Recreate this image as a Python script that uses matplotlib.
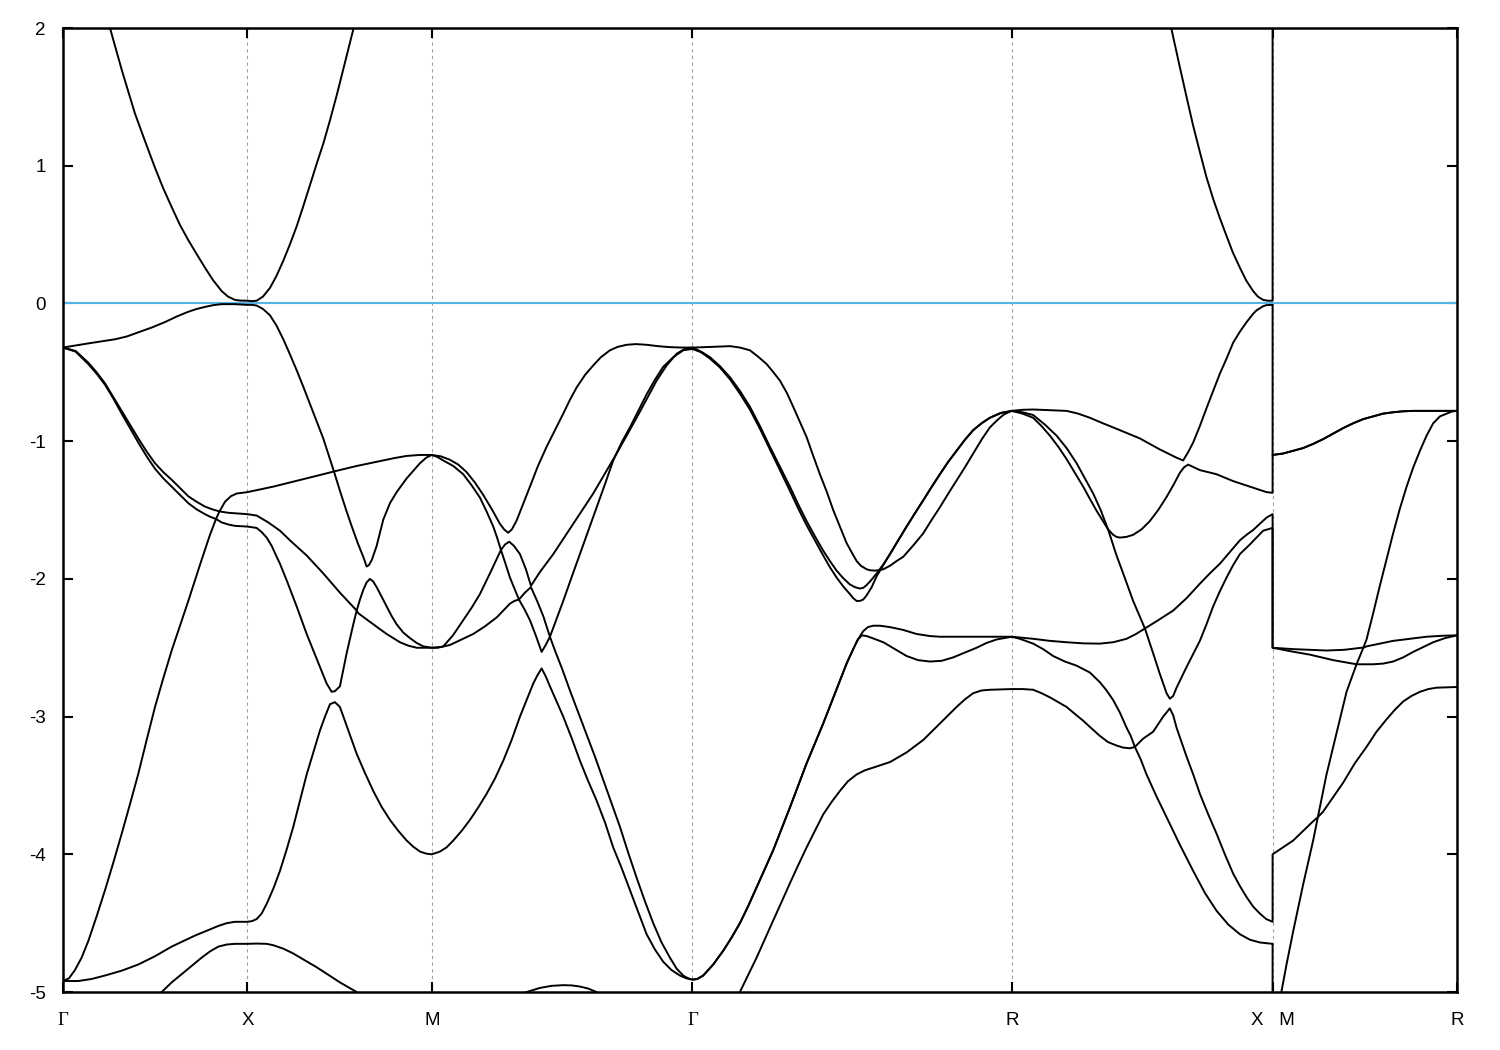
import matplotlib
matplotlib.use('Agg')
import matplotlib.pyplot as plt

plt.rcParams['font.family'] = ['Liberation Sans', 'DejaVu Sans']
plt.rcParams['axes.unicode_minus'] = False

# high symmetry points along the k-path
kpt_pos = [0.0, 0.5, 1.0, 1.7071, 2.5731, 3.2802, 3.7802]
kpt_lab = ['Γ', 'X', 'M', 'Γ', 'R', 'X   M', 'R']
e_ticks = [-5, -4, -3, -2, -1, 0, 1, 2]

# bands as (k, E) pairs; the X|M jump is a repeated k
band_a = [(0.0, 3.2), (0.1274, 2.0), (0.16, 1.69), (0.195, 1.38), (0.2223, 1.18), (0.2495, 0.985),
          (0.2712, 0.84), (0.2947, 0.70), (0.3172, 0.57), (0.3398, 0.46), (0.3633, 0.355), (0.385, 0.26),
          (0.4067, 0.17), (0.4303, 0.09), (0.4474, 0.05), (0.4664, 0.026), (0.4799, 0.021), (0.5, 0.02),
          (0.5126, 0.017), (0.5252, 0.02), (0.5423, 0.05), (0.5613, 0.113), (0.5789, 0.20), (0.5974, 0.31),
          (0.6155, 0.43), (0.6337, 0.56), (0.6508, 0.70), (0.6698, 0.86), (0.6874, 1.01), (0.7058, 1.16),
          (0.724, 1.33), (0.7421, 1.51), (0.7647, 1.75), (0.7872, 1.99), (1.0, 4.2),
          (1.7071, 5.0), (2.5731, 5.0),
          (2.95, 2.65), (3.0062, 1.99), (3.0263, 1.745), (3.0469, 1.50), (3.064, 1.30), (3.083, 1.10),
          (3.1006, 0.92), (3.119, 0.76), (3.1372, 0.62), (3.1554, 0.49), (3.1725, 0.37), (3.1915, 0.26),
          (3.2091, 0.165), (3.2275, 0.09), (3.2403, 0.05), (3.2546, 0.026), (3.2674, 0.02), (3.2802, 0.02),
          (3.2802, 4.0), (3.7802, 5.0)]

band_b = [(0.0, -0.32), (0.0343, -0.305), (0.0686, -0.29), (0.105, -0.275), (0.141, -0.26), (0.1726, -0.24),
          (0.2042, -0.21), (0.2404, -0.175), (0.2766, -0.135), (0.3082, -0.095), (0.3398, -0.06),
          (0.3624, -0.04), (0.385, -0.025), (0.4077, -0.012), (0.4303, -0.005), (0.465, -0.005), (0.5, -0.01),
          (0.5126, -0.01), (0.5252, -0.015), (0.5423, -0.04), (0.5613, -0.086), (0.5789, -0.16), (0.5974, -0.26),
          (0.6155, -0.37), (0.6337, -0.485), (0.6517, -0.605), (0.6698, -0.73), (0.6878, -0.855),
          (0.7058, -0.98), (0.7203, -1.10), (0.7348, -1.22), (0.7656, -1.20), (0.7964, -1.18), (0.8325, -1.16),
          (0.8685, -1.14), (0.9, -1.122), (0.932, -1.107), (0.968, -1.10), (1.0, -1.10),
          (1.0246, -1.11), (1.0493, -1.135), (1.072, -1.17), (1.0946, -1.225), (1.117, -1.30), (1.1396, -1.39),
          (1.162, -1.49), (1.1849, -1.60), (1.196, -1.64), (1.2074, -1.665), (1.2175, -1.64), (1.2302, -1.576),
          (1.2473, -1.46), (1.2663, -1.33), (1.288, -1.18), (1.3116, -1.04), (1.3341, -0.92), (1.3566, -0.80),
          (1.3747, -0.70), (1.3929, -0.61), (1.4154, -0.52), (1.4379, -0.45), (1.4588, -0.39), (1.4832, -0.34),
          (1.5046, -0.315), (1.5284, -0.30), (1.5534, -0.295), (1.5827, -0.30), (1.6131, -0.31),
          (1.6459, -0.317), (1.6755, -0.32), (1.7071, -0.32),
          (1.7325, -0.318), (1.7598, -0.315), (1.7904, -0.312), (1.8086, -0.31), (1.8357, -0.32),
          (1.8628, -0.34), (1.8845, -0.385), (1.9081, -0.44), (1.9252, -0.495), (1.9442, -0.56), (1.9631, -0.65),
          (1.9802, -0.75), (1.9984, -0.86), (2.0165, -0.97), (2.0336, -1.10), (2.0526, -1.24), (2.0716, -1.37),
          (2.0887, -1.50), (2.1068, -1.62), (2.125, -1.74), (2.1394, -1.81), (2.1521, -1.87), (2.1638, -1.905),
          (2.1792, -1.93), (2.1882, -1.937), (2.202, -1.94), (2.2153, -1.935), (2.2245, -1.93), (2.2424, -1.905),
          (2.2608, -1.87), (2.2785, -1.84), (2.3048, -1.76), (2.3327, -1.67), (2.3536, -1.58), (2.378, -1.48),
          (2.3997, -1.385), (2.4232, -1.285), (2.4458, -1.19), (2.4683, -1.09), (2.4919, -0.985),
          (2.5136, -0.90), (2.5325, -0.85), (2.5496, -0.81), (2.5597, -0.795), (2.5731, -0.78),
          (2.6022, -0.772), (2.631, -0.77), (2.6763, -0.775), (2.7216, -0.78), (2.753, -0.80), (2.7848, -0.83),
          (2.82, -0.87), (2.8571, -0.91), (2.8887, -0.945), (2.9203, -0.98), (2.9474, -1.02), (2.9745, -1.06),
          (2.997, -1.09), (3.0198, -1.12), (3.0377, -1.14), (3.0512, -1.08), (3.0648, -1.01), (3.083, -0.89),
          (3.1011, -0.76), (3.119, -0.635), (3.1372, -0.51), (3.1554, -0.40), (3.1733, -0.285), (3.1915, -0.205),
          (3.2096, -0.136), (3.2275, -0.075), (3.2367, -0.05), (3.2546, -0.02), (3.2638, -0.012), (3.2802, -0.01),
          (3.2802, -1.10), (3.3081, -1.09), (3.336, -1.07), (3.3631, -1.05), (3.3902, -1.02), (3.4173, -0.985),
          (3.4444, -0.945), (3.4716, -0.905), (3.4987, -0.87), (3.5258, -0.84), (3.5529, -0.82), (3.58, -0.80),
          (3.6071, -0.79), (3.6343, -0.783), (3.6616, -0.78), (3.7802, -0.78)]

band_c = [(0.0, -0.32), (0.0343, -0.345), (0.0686, -0.43), (0.0912, -0.50), (0.1139, -0.58), (0.1365, -0.68),
          (0.1592, -0.78), (0.1817, -0.88), (0.2042, -0.98), (0.2268, -1.075), (0.2495, -1.16), (0.2721, -1.225),
          (0.2947, -1.28), (0.3172, -1.34), (0.3398, -1.40), (0.3624, -1.44), (0.385, -1.475), (0.405, -1.495),
          (0.4244, -1.51), (0.4393, -1.44), (0.4551, -1.40), (0.471, -1.38), (0.5, -1.37),
          (0.5351, -1.35), (0.5702, -1.33), (0.6155, -1.30), (0.6608, -1.27), (0.6978, -1.245), (0.7348, -1.22),
          (0.751, -1.36), (0.7691, -1.51), (0.7872, -1.65), (0.8008, -1.75), (0.8143, -1.84), (0.8235, -1.91),
          (0.8297, -1.90), (0.8378, -1.86), (0.8506, -1.76), (0.8595, -1.665), (0.8685, -1.57), (0.8867, -1.45),
          (0.9048, -1.37), (0.932, -1.27), (0.968, -1.16), (0.985, -1.12), (1.0, -1.10),
          (1.0156, -1.115), (1.0312, -1.14), (1.0583, -1.18), (1.0854, -1.24), (1.108, -1.32), (1.1307, -1.41),
          (1.1487, -1.51), (1.1668, -1.62), (1.1772, -1.70), (1.1876, -1.79), (1.1988, -1.75), (1.2101, -1.73),
          (1.2229, -1.76), (1.2392, -1.82), (1.2554, -1.93), (1.269, -2.05), (1.2934, -1.95), (1.3295, -1.82),
          (1.3566, -1.71), (1.3837, -1.60), (1.4108, -1.49), (1.4379, -1.38), (1.4696, -1.235), (1.5013, -1.09),
          (1.5284, -0.96), (1.5556, -0.83), (1.5827, -0.695), (1.6098, -0.56), (1.6369, -0.45), (1.664, -0.365),
          (1.6865, -0.33), (1.7071, -0.32),
          (1.7307, -0.35), (1.7544, -0.39), (1.7815, -0.455), (1.8086, -0.535), (1.8357, -0.635), (1.8628, -0.75),
          (1.89, -0.89), (1.917, -1.04), (1.944, -1.185), (1.9713, -1.33), (1.994, -1.46), (2.0165, -1.58),
          (2.039, -1.69), (2.0616, -1.795), (2.0797, -1.87), (2.0979, -1.94), (2.1159, -1.995), (2.1339, -2.04),
          (2.1475, -2.06), (2.161, -2.07), (2.17, -2.065), (2.1792, -2.045), (2.193, -2.005), (2.2066, -1.96),
          (2.2245, -1.895), (2.2427, -1.82), (2.265, -1.72), (2.2877, -1.62), (2.31, -1.525), (2.3327, -1.43),
          (2.355, -1.335), (2.378, -1.24), (2.4006, -1.15), (2.4232, -1.07), (2.4458, -0.99), (2.4683, -0.92),
          (2.491, -0.87), (2.5136, -0.83), (2.5434, -0.795), (2.5731, -0.78),
          (2.6022, -0.79), (2.631, -0.81), (2.663, -0.88), (2.6945, -0.96), (2.7216, -1.05), (2.7487, -1.16),
          (2.7712, -1.27), (2.7937, -1.38), (2.814, -1.50), (2.834, -1.64), (2.8479, -1.68), (2.857, -1.695),
          (2.8661, -1.70), (2.884, -1.695), (2.9021, -1.68), (2.925, -1.64), (2.9474, -1.58), (2.97, -1.50),
          (2.9927, -1.405), (3.011, -1.32), (3.0287, -1.23), (3.04, -1.19), (3.0512, -1.17), (3.067, -1.19),
          (3.083, -1.21), (3.1283, -1.24), (3.1733, -1.29), (3.2186, -1.33), (3.2638, -1.37), (3.2802, -1.375),
          (3.2802, -1.10), (3.3081, -1.09), (3.336, -1.07), (3.3631, -1.05), (3.3902, -1.02), (3.4173, -0.985),
          (3.4444, -0.945), (3.4716, -0.905), (3.4987, -0.87), (3.5258, -0.84), (3.5529, -0.82), (3.58, -0.80),
          (3.6071, -0.79), (3.6343, -0.783), (3.6616, -0.78), (3.7802, -0.78)]

band_d = [(0.0, -0.32), (0.0343, -0.35), (0.0686, -0.44), (0.0912, -0.51), (0.1139, -0.59), (0.1365, -0.69),
          (0.1592, -0.80), (0.1817, -0.905), (0.2042, -1.01), (0.2268, -1.11), (0.2495, -1.20), (0.2721, -1.27),
          (0.2947, -1.33), (0.3172, -1.39), (0.3398, -1.45), (0.3624, -1.495), (0.385, -1.53), (0.4, -1.55),
          (0.4149, -1.565), (0.4244, -1.51), (0.4482, -1.52), (0.5, -1.53),
          (0.5252, -1.54), (0.5568, -1.59), (0.5884, -1.65), (0.6155, -1.72), (0.638, -1.775), (0.6608, -1.83),
          (0.6833, -1.895), (0.7058, -1.96), (0.7284, -2.03), (0.751, -2.10), (0.7737, -2.165), (0.7964, -2.23),
          (0.8053, -2.15), (0.8143, -2.08), (0.8235, -2.025), (0.8324, -2.0), (0.8415, -2.02), (0.8506, -2.06),
          (0.8642, -2.13), (0.8777, -2.20), (0.8913, -2.27), (0.9048, -2.33), (0.9229, -2.39), (0.9409, -2.43),
          (0.959, -2.465), (0.977, -2.49), (1.0, -2.50),
          (1.0156, -2.50), (1.0312, -2.49), (1.0575, -2.41), (1.0854, -2.30), (1.108, -2.21), (1.1307, -2.11),
          (1.1578, -1.96), (1.1876, -1.79), (1.2, -1.89), (1.212, -1.99), (1.2242, -2.07), (1.2364, -2.15),
          (1.2527, -2.10), (1.269, -2.06), (1.2857, -2.16), (1.3024, -2.27), (1.3205, -2.42), (1.3385, -2.29),
          (1.3566, -2.16), (1.379, -1.99), (1.4018, -1.82), (1.4245, -1.65), (1.4471, -1.48), (1.47, -1.31),
          (1.4921, -1.14), (1.5148, -1.01), (1.5374, -0.90), (1.56, -0.78), (1.5827, -0.66), (1.605, -0.555),
          (1.6277, -0.46), (1.655, -0.39), (1.6819, -0.34), (1.7071, -0.33),
          (1.7307, -0.355), (1.7544, -0.40), (1.7815, -0.465), (1.8086, -0.55), (1.8357, -0.655), (1.8628, -0.77),
          (1.89, -0.91), (1.917, -1.06), (1.944, -1.21), (1.9713, -1.36), (1.994, -1.49), (2.0165, -1.61),
          (2.039, -1.72), (2.0616, -1.83), (2.0797, -1.915), (2.0979, -1.99), (2.1159, -2.055), (2.1339, -2.11),
          (2.143, -2.14), (2.1521, -2.16), (2.1611, -2.16), (2.17, -2.15), (2.1792, -2.12), (2.193, -2.06),
          (2.2066, -1.98), (2.2245, -1.90), (2.2427, -1.82), (2.265, -1.72), (2.2877, -1.62), (2.31, -1.525),
          (2.3327, -1.43), (2.355, -1.335), (2.378, -1.24), (2.4006, -1.15), (2.4232, -1.07), (2.4458, -0.99),
          (2.4683, -0.92), (2.491, -0.87), (2.5136, -0.83), (2.5434, -0.795), (2.5731, -0.78),
          (2.6022, -0.80), (2.631, -0.83), (2.6536, -0.89), (2.6763, -0.96), (2.699, -1.04), (2.7216, -1.13),
          (2.744, -1.23), (2.7666, -1.33), (2.785, -1.42), (2.8029, -1.505), (2.818, -1.57), (2.834, -1.64),
          (2.8571, -1.83), (2.875, -1.96), (2.9021, -2.16), (2.934, -2.36), (2.97, -2.30), (3.0106, -2.23),
          (3.047, -2.14), (3.083, -2.035), (3.11, -1.96), (3.1372, -1.89), (3.1643, -1.805), (3.1915, -1.72),
          (3.2095, -1.68), (3.2275, -1.645), (3.2457, -1.60), (3.2638, -1.555), (3.2802, -1.53),
          (3.2802, -2.50), (3.336, -2.51), (3.3813, -2.515), (3.4265, -2.52), (3.474, -2.515), (3.5214, -2.50),
          (3.5263, -2.50), (3.535, -2.44), (3.553, -2.25), (3.5711, -2.05), (3.589, -1.86), (3.6071, -1.67),
          (3.6254, -1.49), (3.6437, -1.33), (3.6617, -1.19), (3.6798, -1.07), (3.6978, -0.96), (3.7158, -0.87),
          (3.734, -0.82), (3.7521, -0.80), (3.766, -0.785), (3.7802, -0.78)]

band_e = [(0.0, -4.92), (0.0163, -4.90), (0.0325, -4.84), (0.0505, -4.75), (0.0686, -4.63), (0.0912, -4.45),
          (0.1139, -4.26), (0.1365, -4.06), (0.1592, -3.85), (0.1817, -3.635), (0.2042, -3.415), (0.2268, -3.17),
          (0.2495, -2.93), (0.2721, -2.72), (0.2947, -2.52), (0.3172, -2.34), (0.3398, -2.16), (0.358, -2.01),
          (0.3761, -1.86), (0.3986, -1.68), (0.4149, -1.565), (0.4303, -1.59), (0.4484, -1.605), (0.4664, -1.615),
          (0.5, -1.62),
          (0.5126, -1.625), (0.5252, -1.63), (0.5387, -1.66), (0.5523, -1.70), (0.5659, -1.76), (0.5795, -1.84),
          (0.5884, -1.89), (0.6065, -2.01), (0.6337, -2.20), (0.6608, -2.40), (0.688, -2.58), (0.715, -2.76),
          (0.7286, -2.82), (0.7375, -2.815), (0.751, -2.78), (0.7601, -2.66), (0.7692, -2.54), (0.7872, -2.33),
          (0.7964, -2.23), (0.801, -2.25), (0.8212, -2.29), (0.8414, -2.33), (0.8595, -2.365), (0.8777, -2.40),
          (0.8957, -2.43), (0.9138, -2.46), (0.9365, -2.485), (0.9591, -2.50), (1.0, -2.50),
          (1.0246, -2.495), (1.0493, -2.48), (1.081, -2.44), (1.1125, -2.40), (1.144, -2.345), (1.176, -2.28),
          (1.194, -2.23), (1.212, -2.18), (1.2242, -2.16), (1.2364, -2.15), (1.2513, -2.22), (1.2663, -2.30),
          (1.282, -2.41), (1.298, -2.53), (1.309, -2.48), (1.3205, -2.42), (1.3341, -2.52), (1.3545, -2.66),
          (1.3747, -2.81), (1.3974, -2.97), (1.42, -3.13), (1.4425, -3.29), (1.465, -3.46), (1.4876, -3.63),
          (1.5103, -3.80), (1.533, -3.99), (1.5556, -4.17), (1.578, -4.34), (1.6006, -4.50), (1.6232, -4.64),
          (1.6459, -4.75), (1.664, -4.83), (1.6819, -4.88), (1.695, -4.90), (1.7071, -4.91),
          (1.72, -4.905), (1.7362, -4.88), (1.7633, -4.80), (1.7904, -4.70), (1.813, -4.605), (1.8357, -4.50),
          (1.8583, -4.375), (1.881, -4.24), (1.9035, -4.105), (1.926, -3.97), (1.9487, -3.815), (1.9713, -3.66),
          (1.994, -3.50), (2.0165, -3.34), (2.039, -3.195), (2.0616, -3.05), (2.0843, -2.895), (2.1068, -2.74),
          (2.125, -2.615), (2.1429, -2.51), (2.1556, -2.44), (2.17, -2.38), (2.1828, -2.35), (2.1971, -2.34),
          (2.2153, -2.34), (2.2424, -2.35), (2.2777, -2.37), (2.3148, -2.40), (2.3509, -2.415), (2.378, -2.42),
          (2.4675, -2.42), (2.5731, -2.42),
          (2.631, -2.435), (2.6763, -2.45), (2.7216, -2.46), (2.7666, -2.468), (2.8118, -2.47), (2.848, -2.46),
          (2.8842, -2.435), (2.91, -2.40), (2.934, -2.36), (2.9563, -2.54), (2.9745, -2.69), (2.9927, -2.83),
          (3.0016, -2.87), (3.0107, -2.85), (3.0198, -2.79), (3.0469, -2.64), (3.083, -2.45), (3.101, -2.33),
          (3.119, -2.20), (3.1372, -2.09), (3.1554, -1.99), (3.1733, -1.90), (3.1915, -1.82), (3.2186, -1.75),
          (3.2546, -1.65), (3.2802, -1.63),
          (3.2802, -2.50), (3.3381, -2.53), (3.3813, -2.55), (3.4446, -2.59), (3.5079, -2.62), (3.5263, -2.50),
          (3.535, -2.49), (3.5711, -2.47), (3.6071, -2.45), (3.6525, -2.435), (3.6979, -2.42), (3.74, -2.413),
          (3.7802, -2.41)]

band_f = [(0.0, -4.92), (0.0415, -4.92), (0.078, -4.905), (0.1139, -4.88), (0.159, -4.845), (0.2042, -4.80),
          (0.2495, -4.74), (0.2947, -4.67), (0.3263, -4.63), (0.3579, -4.59), (0.3896, -4.555), (0.4213, -4.52),
          (0.4438, -4.50), (0.4664, -4.49), (0.5, -4.49),
          (0.5126, -4.485), (0.5252, -4.47), (0.5387, -4.43), (0.5523, -4.36), (0.5703, -4.25), (0.5884, -4.12),
          (0.6065, -3.965), (0.6245, -3.80), (0.6427, -3.61), (0.6608, -3.42), (0.6789, -3.26), (0.6969, -3.10),
          (0.7105, -3.0), (0.724, -2.91), (0.7375, -2.895), (0.751, -2.93), (0.7737, -3.10), (0.7964, -3.27),
          (0.819, -3.41), (0.8414, -3.54), (0.864, -3.655), (0.8867, -3.75), (0.9094, -3.83), (0.932, -3.90),
          (0.95, -3.945), (0.968, -3.98), (0.985, -3.995), (1.0, -4.0),
          (1.0222, -3.98), (1.04, -3.95), (1.0583, -3.90), (1.081, -3.83), (1.1036, -3.75), (1.126, -3.66),
          (1.1489, -3.56), (1.1714, -3.45), (1.1939, -3.32), (1.2166, -3.17), (1.2392, -3.0), (1.2572, -2.88),
          (1.2752, -2.76), (1.2866, -2.70), (1.298, -2.65), (1.3095, -2.71), (1.3205, -2.78), (1.3386, -2.89),
          (1.3566, -3.0), (1.38, -3.16), (1.4018, -3.32), (1.4245, -3.47), (1.4471, -3.61), (1.47, -3.77),
          (1.4921, -3.95), (1.515, -4.10), (1.5374, -4.26), (1.56, -4.42), (1.5827, -4.58), (1.605, -4.69),
          (1.6277, -4.78), (1.65, -4.84), (1.673, -4.88), (1.69, -4.90), (1.7071, -4.91),
          (1.72, -4.905), (1.7362, -4.88), (1.7633, -4.80), (1.7904, -4.70), (1.813, -4.605), (1.8357, -4.50),
          (1.8583, -4.375), (1.881, -4.24), (1.9035, -4.105), (1.926, -3.97), (1.9487, -3.815), (1.9713, -3.66),
          (1.994, -3.50), (2.0165, -3.34), (2.039, -3.195), (2.0616, -3.05), (2.0843, -2.895), (2.1068, -2.74),
          (2.125, -2.615), (2.1429, -2.51), (2.1556, -2.44), (2.1665, -2.41), (2.1792, -2.415), (2.2, -2.435),
          (2.2245, -2.46), (2.256, -2.51), (2.2877, -2.56), (2.319, -2.59), (2.3509, -2.60), (2.3825, -2.595),
          (2.414, -2.57), (2.4458, -2.535), (2.4775, -2.50), (2.5046, -2.465), (2.5317, -2.44), (2.5731, -2.42),
          (2.5949, -2.435), (2.631, -2.47), (2.658, -2.51), (2.6852, -2.56), (2.717, -2.60), (2.7487, -2.63),
          (2.7848, -2.68), (2.8118, -2.75), (2.83, -2.81), (2.8479, -2.88), (2.866, -2.97), (2.8842, -3.08),
          (2.8955, -3.14), (2.9067, -3.22), (2.9292, -3.16), (2.9563, -3.11), (2.9835, -3.0), (3.0016, -2.94),
          (3.0107, -2.99), (3.0198, -3.08), (3.0469, -3.29), (3.065, -3.42), (3.083, -3.56), (3.1057, -3.71),
          (3.1283, -3.85), (3.1508, -4.00), (3.1733, -4.14), (3.1915, -4.23), (3.2096, -4.31), (3.2276, -4.38),
          (3.2457, -4.43), (3.263, -4.47), (3.2802, -4.49),
          (3.2802, -4.0), (3.3081, -3.95), (3.336, -3.90), (3.363, -3.83), (3.3902, -3.76), (3.403, -3.73),
          (3.4265, -3.42), (3.4536, -3.12), (3.4808, -2.82), (3.4943, -2.72), (3.5079, -2.62), (3.5304, -2.62),
          (3.5529, -2.62), (3.58, -2.615), (3.6071, -2.60), (3.6344, -2.57), (3.6616, -2.53), (3.6887, -2.495),
          (3.7158, -2.46), (3.748, -2.43), (3.7802, -2.41)]

band_g = [(0.0, -5.7), (0.15, -5.3), (0.2676, -5.0), (0.2947, -4.93), (0.3219, -4.87), (0.349, -4.81),
          (0.3761, -4.75), (0.3987, -4.705), (0.4213, -4.67), (0.4438, -4.655), (0.4664, -4.65), (0.5, -4.65),
          (0.5252, -4.648), (0.5523, -4.65), (0.5702, -4.66), (0.5974, -4.685), (0.6245, -4.72), (0.656, -4.77),
          (0.6879, -4.82), (0.7195, -4.875), (0.751, -4.93), (0.7737, -4.965), (0.7964, -5.0), (0.85, -5.2),
          (1.0, -5.3),
          (1.2573, -5.0), (1.2753, -4.985), (1.2934, -4.97), (1.325, -4.955), (1.3566, -4.95), (1.38, -4.952),
          (1.4018, -4.96), (1.4245, -4.975), (1.4471, -5.0), (1.55, -5.4), (1.7071, -5.7),
          (1.78, -5.3), (1.8357, -5.0), (1.8574, -4.88), (1.881, -4.75), (1.9035, -4.615), (1.926, -4.48),
          (1.9488, -4.345), (1.9713, -4.21), (1.9927, -4.085), (2.0165, -3.95), (2.039, -3.83), (2.0616, -3.71),
          (2.0843, -3.62), (2.1068, -3.54), (2.1285, -3.47), (2.1521, -3.42), (2.1746, -3.39), (2.1974, -3.37),
          (2.2427, -3.33), (2.2877, -3.26), (2.3327, -3.17), (2.378, -3.05), (2.4232, -2.93), (2.4458, -2.875),
          (2.4683, -2.83), (2.4911, -2.81), (2.5136, -2.805), (2.5731, -2.80),
          (2.6022, -2.80), (2.631, -2.805), (2.6536, -2.83), (2.6763, -2.86), (2.699, -2.895), (2.7216, -2.93),
          (2.744, -2.98), (2.7666, -3.03), (2.789, -3.085), (2.8118, -3.14), (2.834, -3.185), (2.8571, -3.21),
          (2.875, -3.225), (2.8932, -3.23), (2.9067, -3.22), (2.9225, -3.31), (2.9384, -3.42), (2.9655, -3.58),
          (2.9927, -3.73), (3.0287, -3.93), (3.0648, -4.12), (3.0966, -4.28), (3.1283, -4.41), (3.16, -4.51),
          (3.1915, -4.58), (3.2186, -4.62), (3.2457, -4.64), (3.2802, -4.65),
          (3.2802, -5.3), (3.2999, -5.06), (3.318, -4.80), (3.336, -4.56), (3.363, -4.22), (3.3902, -3.90),
          (3.403, -3.73), (3.4173, -3.69), (3.4444, -3.585), (3.4716, -3.48), (3.503, -3.34), (3.535, -3.22),
          (3.562, -3.11), (3.5892, -3.02), (3.612, -2.95), (3.6345, -2.89), (3.657, -2.85), (3.6798, -2.82),
          (3.7025, -2.80), (3.725, -2.79), (3.7802, -2.785)]

bands = [band_a, band_b, band_c, band_d, band_e, band_f, band_g]

fig = plt.figure(figsize=(15, 10.5), dpi=100)
ax = fig.add_axes([0.042, 0.0552, 0.9293, 0.9181])

# dotted lines at the inner high symmetry points
for k in kpt_pos[1:-1]:
    ax.axvline(k, color='#a0a0a0', lw=0.8, ls=(0, (3, 3)), zorder=1)

# Fermi level
ax.axhline(0, color='#56b4e9', lw=1.5, zorder=2)

for band in bands:
    ks = [p[0] for p in band]
    es = [p[1] for p in band]
    ax.plot(ks, es, color='black', lw=1.4, zorder=3)

ax.set_xlim(kpt_pos[0], kpt_pos[-1])
ax.set_ylim(-5, 2)
ax.set_xticks(kpt_pos)
ax.set_xticklabels(kpt_lab)
ax.set_yticks(e_ticks)
ax.set_yticklabels([str(v) for v in e_ticks])
ax.tick_params(direction='in', length=7.2, width=1.5, top=True, right=True, labelsize=13.5)
ax.tick_params(axis='x', pad=14.5)
ax.tick_params(axis='y', pad=12.5)
for lab in ax.get_xticklabels():
    if lab.get_text() == 'Γ':
        lab.set_fontfamily(['Liberation Serif', 'DejaVu Serif'])
for s in ax.spines.values():
    s.set_linewidth(1.8)

fig.savefig('out.png', dpi=100)
